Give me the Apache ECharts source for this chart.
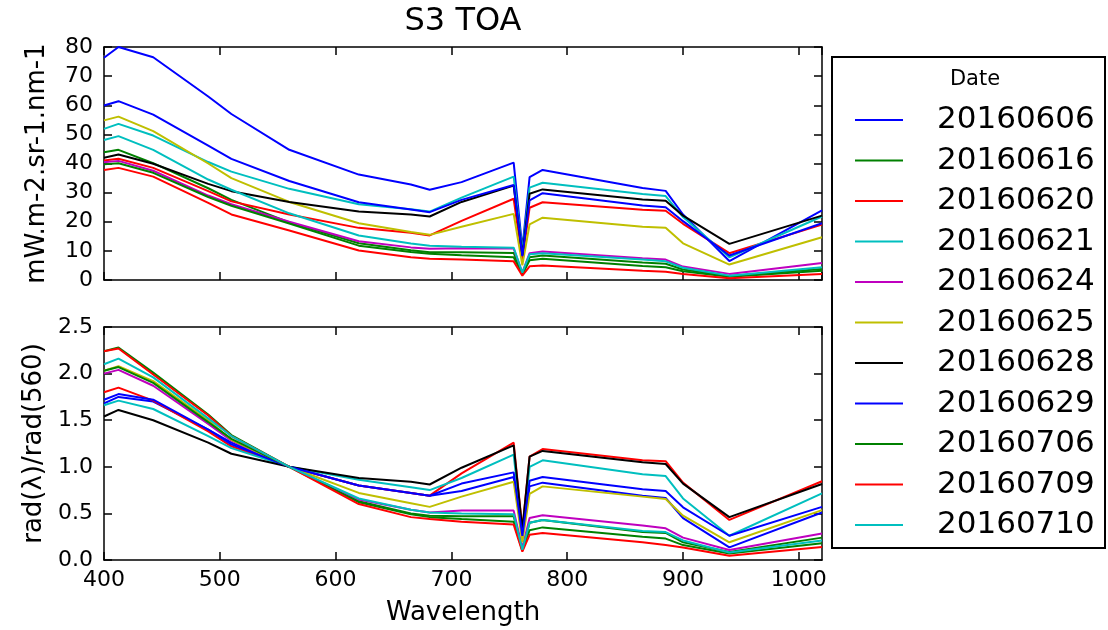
<!DOCTYPE html>
<html><head><meta charset="utf-8">
<script src="https://cdn.jsdelivr.net/npm/echarts@6/dist/echarts.min.js"></script>
<style>html,body{margin:0;padding:0;background:#fff}#c{width:1108px;height:630px}</style>
</head><body><div id="c"></div>
<script>
// ---- data ----
const wavelengths = [400, 412.5, 442.5, 490, 510, 560, 620, 665, 681.25, 708.75, 753.75, 761.25, 767.5, 778.75, 865, 885, 900, 940, 1020];
const dates = ['20160606','20160616','20160620','20160621','20160624','20160625','20160628','20160629','20160706','20160709','20160710'];

// TOA radiance (mW.m-2.sr-1.nm-1)
const toa_20160606 = [76.3, 80.0, 76.5, 63.0, 57.0, 44.7, 36.2, 32.8, 31.0, 33.6, 40.3, 10.8, 35.3, 37.8, 31.6, 30.6, 22.5, 6.5, 23.9];
const toa_20160616 = [43.9, 44.7, 40.1, 31.5, 27.5, 19.8, 12.6, 10.2, 9.5, 9.5, 9.3, 2.2, 7.8, 8.4, 6.0, 5.6, 3.6, 1.4, 3.8];
const toa_20160620 = [41.0, 41.6, 38.5, 30.5, 27.0, 22.5, 17.9, 16.2, 15.3, 20.3, 27.9, 7.0, 24.8, 26.7, 24.1, 23.8, 19.3, 9.2, 19.0];
const toa_20160621 = [51.9, 53.6, 49.6, 40.5, 37.2, 31.3, 26.0, 24.3, 23.5, 28.3, 35.5, 9.5, 31.7, 33.4, 29.5, 28.8, 21.6, 7.8, 21.8];
const toa_20160624 = [40.4, 40.9, 37.5, 29.0, 26.0, 20.0, 13.3, 11.2, 10.7, 10.9, 10.8, 2.5, 9.2, 9.8, 7.5, 7.0, 4.6, 2.1, 5.8];
const toa_20160625 = [54.8, 56.1, 51.1, 40.0, 35.0, 26.8, 19.5, 16.5, 15.5, 18.3, 22.7, 5.0, 19.1, 21.4, 18.3, 17.9, 12.6, 5.3, 14.7];
const toa_20160628 = [42.0, 43.1, 39.9, 33.0, 30.5, 26.8, 23.5, 22.5, 21.8, 26.8, 32.4, 8.5, 29.6, 31.1, 27.6, 27.2, 22.1, 12.4, 22.1];
const toa_20160629 = [59.9, 61.4, 56.8, 46.1, 41.6, 34.0, 26.7, 24.2, 23.3, 27.5, 32.6, 8.2, 27.3, 29.8, 25.6, 25.0, 20.2, 8.4, 19.5];
const toa_20160706 = [39.7, 40.1, 36.8, 28.5, 25.5, 19.4, 11.8, 9.6, 9.0, 8.5, 7.8, 1.9, 6.8, 7.3, 4.8, 4.4, 3.0, 1.1, 3.2];
const toa_20160709 = [37.8, 38.5, 35.5, 26.5, 22.5, 17.0, 10.1, 7.8, 7.3, 7.0, 6.4, 1.5, 4.7, 5.0, 3.2, 2.8, 2.1, 0.6, 2.1];
const toa_20160710 = [48.1, 49.4, 44.7, 34.5, 31.0, 22.9, 15.3, 12.5, 11.8, 11.4, 11.1, 2.5, 8.8, 9.2, 7.0, 6.4, 4.2, 1.5, 4.4];

// rad(lambda)/rad(560)
const ratio_20160606 = [1.68, 1.75, 1.70, 1.40, 1.26, 1.0, 0.80, 0.72, 0.69, 0.74, 0.89, 0.24, 0.79, 0.83, 0.69, 0.665, 0.45, 0.135, 0.51];
const ratio_20160616 = [2.24, 2.28, 2.01, 1.56, 1.34, 1.0, 0.63, 0.50, 0.475, 0.47, 0.47, 0.11, 0.40, 0.43, 0.30, 0.29, 0.19, 0.085, 0.24];
const ratio_20160620 = [1.80, 1.85, 1.71, 1.38, 1.22, 1.0, 0.80, 0.72, 0.69, 0.93, 1.26, 0.33, 1.11, 1.19, 1.07, 1.06, 0.83, 0.43, 0.845];
const ratio_20160621 = [1.66, 1.71, 1.62, 1.33, 1.20, 1.0, 0.86, 0.78, 0.75, 0.88, 1.13, 0.28, 1.00, 1.07, 0.92, 0.90, 0.66, 0.26, 0.715];
const ratio_20160624 = [2.00, 2.04, 1.87, 1.46, 1.28, 1.0, 0.65, 0.54, 0.51, 0.53, 0.53, 0.13, 0.45, 0.48, 0.37, 0.34, 0.24, 0.107, 0.285];
const ratio_20160625 = [2.03, 2.08, 1.92, 1.50, 1.29, 1.0, 0.72, 0.61, 0.57, 0.68, 0.84, 0.19, 0.71, 0.79, 0.68, 0.655, 0.475, 0.19, 0.535];
const ratio_20160628 = [1.54, 1.61, 1.50, 1.26, 1.14, 1.0, 0.88, 0.84, 0.81, 0.99, 1.23, 0.32, 1.11, 1.17, 1.05, 1.03, 0.82, 0.46, 0.815];
const ratio_20160629 = [1.72, 1.78, 1.72, 1.40, 1.24, 1.0, 0.80, 0.72, 0.69, 0.82, 0.94, 0.26, 0.85, 0.89, 0.76, 0.74, 0.565, 0.26, 0.57];
const ratio_20160706 = [2.03, 2.07, 1.90, 1.48, 1.30, 1.0, 0.62, 0.49, 0.46, 0.44, 0.41, 0.10, 0.32, 0.35, 0.25, 0.23, 0.16, 0.07, 0.18];
const ratio_20160709 = [2.24, 2.27, 1.99, 1.55, 1.33, 1.0, 0.60, 0.46, 0.44, 0.41, 0.38, 0.09, 0.27, 0.29, 0.19, 0.16, 0.135, 0.046, 0.14];
const ratio_20160710 = [2.10, 2.16, 1.96, 1.52, 1.33, 1.0, 0.66, 0.54, 0.51, 0.50, 0.49, 0.11, 0.40, 0.43, 0.31, 0.30, 0.21, 0.08, 0.21];

const toaList = [toa_20160606, toa_20160616, toa_20160620, toa_20160621, toa_20160624, toa_20160625, toa_20160628, toa_20160629, toa_20160706, toa_20160709, toa_20160710];
const ratioList = [ratio_20160606, ratio_20160616, ratio_20160620, ratio_20160621, ratio_20160624, ratio_20160625, ratio_20160628, ratio_20160629, ratio_20160706, ratio_20160709, ratio_20160710];

// ---- style ----
const palette = ['#0000ff','#008000','#ff0000','#00bfbf','#bf00bf','#bfbf00','#000000','#0000ff','#008000','#ff0000','#00bfbf'];
const FONT = 'DejaVu Sans';
const TICK_FS = 22, NAME_FS = 26, LEG_FS = 31;

const chart = echarts.init(document.getElementById('c'), null, {renderer: 'canvas'});

function xAx(gi, pos, labels, name) {
  return {
    type: 'value', gridIndex: gi, position: pos, min: 400, max: 1020, interval: 100,
    axisLine: {show: true, onZero: false, lineStyle: {color: '#000', width: 1.5}},
    axisTick: {show: true, inside: true, length: 8, lineStyle: {color: '#000', width: 1.5}},
    axisLabel: {show: labels, color: '#000', fontFamily: FONT, fontSize: TICK_FS, margin: 9, showMaxLabel: false, formatter: v => String(v)},
    splitLine: {show: false},
    name: name || '', nameLocation: 'middle', nameGap: 40,
    nameTextStyle: {color: '#000', fontFamily: FONT, fontSize: NAME_FS}
  };
}
function yAx(gi, pos, labels, max, interval, name, fmt) {
  return {
    type: 'value', gridIndex: gi, position: pos, min: 0, max: max, interval: interval,
    axisLine: {show: true, onZero: false, lineStyle: {color: '#000', width: 1.5}},
    axisTick: {show: true, inside: true, length: 8, lineStyle: {color: '#000', width: 1.5}},
    axisLabel: {show: labels, color: '#000', fontFamily: FONT, fontSize: TICK_FS, margin: 11, formatter: fmt},
    splitLine: {show: false},
    name: name || '', nameLocation: 'middle', nameRotate: 90, nameGap: 54,
    nameTextStyle: {color: '#000', fontFamily: FONT, fontSize: NAME_FS}
  };
}

const series = [];
dates.forEach((d, i) => {
  series.push({
    name: d, type: 'line', xAxisIndex: 0, yAxisIndex: 0, showSymbol: false, symbol: 'none',
    color: palette[i], lineStyle: {width: 2, color: palette[i]}, animation: false,
    data: wavelengths.map((w, j) => [w, toaList[i][j]])
  });
});
dates.forEach((d, i) => {
  series.push({
    name: d, type: 'line', xAxisIndex: 2, yAxisIndex: 2, showSymbol: false, symbol: 'none',
    color: palette[i], lineStyle: {width: 2, color: palette[i]}, animation: false,
    data: wavelengths.map((w, j) => [w, ratioList[i][j]])
  });
});

chart.setOption({
  animation: false,
  backgroundColor: '#fff',
  grid: [
    {left: 104, top: 47, width: 718, height: 233},
    {left: 104, top: 327, width: 718, height: 233}
  ],
  xAxis: [
    xAx(0, 'bottom', false), xAx(0, 'top', false),
    xAx(1, 'bottom', true, 'Wavelength'), xAx(1, 'top', false)
  ],
  yAxis: [
    yAx(0, 'left', true, 80, 10, 'mW.m-2.sr-1.nm-1', v => String(v)),
    yAx(0, 'right', false, 80, 10),
    yAx(1, 'left', true, 2.5, 0.5, 'rad(λ)/rad(560)', v => v.toFixed(1)),
    yAx(1, 'right', false, 2.5, 0.5)
  ],
  legend: {
    data: dates, orient: 'vertical', left: 855, top: 104.5, padding: 0,
    itemWidth: 48, itemHeight: 2, itemGap: 9.5, icon: 'rect',
    selectedMode: false,
    textStyle: {color: '#000', fontFamily: FONT, fontSize: LEG_FS, padding: [0, 0, 0, 29]}
  },
  graphic: [
    {type: 'rect', shape: {x: 832, y: 57, width: 273, height: 491}, style: {fill: 'none', stroke: '#000', lineWidth: 2}, z: 0},
    {type: 'text', x: 975, y: 80, style: {text: 'Date', fontFamily: FONT, fontSize: 21, fill: '#000', textAlign: 'center', textVerticalAlign: 'middle'}},
    {type: 'text', x: 463, y: 22, style: {text: 'S3 TOA', fontFamily: FONT, fontSize: 32, fill: '#000', textAlign: 'center', textVerticalAlign: 'middle'}}
  ],
  series: series
});
</script></body></html>
